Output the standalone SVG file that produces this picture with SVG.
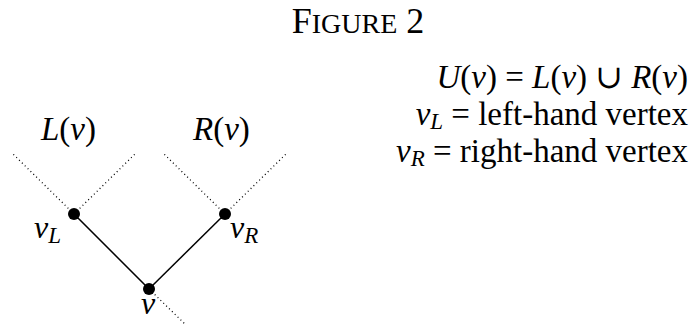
<svg xmlns="http://www.w3.org/2000/svg" width="692" height="329" viewBox="0 0 692 329">
<style>
text{font-family:"Liberation Serif","DejaVu Serif",serif;fill:#000}
.i{font-style:italic}
.dot{fill:#000}
.solid{stroke:#000;stroke-width:1.5;fill:none}
.dotted{stroke:#000;stroke-width:1.3;stroke-dasharray:1 3;fill:none}
</style>
<rect width="692" height="329" fill="#fff"/>
<text id="title" x="358" y="33" text-anchor="middle" font-size="36">F<tspan font-size="28">IGURE</tspan> 2</text>
<g id="connectors">
<line class="dotted" x1="74" y1="214" x2="13" y2="154"/>
<line class="dotted" x1="74" y1="214" x2="135" y2="154"/>
<line class="dotted" x1="225" y1="214" x2="164" y2="154"/>
<line class="dotted" x1="225" y1="214" x2="286" y2="154"/>
<line class="dotted" x1="149" y1="289" x2="186" y2="325"/>
<line class="solid" x1="74" y1="214" x2="149" y2="289"/>
<line class="solid" x1="149" y1="289" x2="225" y2="214"/>
</g>
<g id="nodeL">
<circle class="dot" cx="74" cy="214" r="6"/>
<text x="34" y="238" font-size="32"><tspan class="i">ν</tspan><tspan class="i" font-size="23" dy="5">L</tspan></text>
</g>
<g id="nodeR">
<circle class="dot" cx="225" cy="214" r="6"/>
<text x="230" y="238" font-size="32"><tspan class="i">ν</tspan><tspan class="i" font-size="23" dy="5">R</tspan></text>
</g>
<g id="nodeV">
<circle class="dot" cx="149" cy="289" r="6"/>
<text x="141" y="314" font-size="32" class="i">ν</text>
</g>
<g id="labelL"><text x="41" y="140" font-size="33"><tspan class="i">L</tspan>(<tspan class="i">ν</tspan>)</text></g>
<g id="labelR"><text x="193" y="140" font-size="33"><tspan class="i">R</tspan>(<tspan class="i">ν</tspan>)</text></g>
<g id="legend">
<text x="688" y="88" text-anchor="end" font-size="33"><tspan class="i">U</tspan>(<tspan class="i">ν</tspan>) = <tspan class="i">L</tspan>(<tspan class="i">ν</tspan>) ∪ <tspan class="i">R</tspan>(<tspan class="i">ν</tspan>)</text>
<text x="688" y="125" text-anchor="end" font-size="33"><tspan class="i">ν</tspan><tspan class="i" font-size="23" dy="4">L</tspan><tspan dy="-4"> = left-hand vertex</tspan></text>
<text x="688" y="162" text-anchor="end" font-size="33"><tspan class="i">ν</tspan><tspan class="i" font-size="23" dy="4">R</tspan><tspan dy="-4"> = right-hand vertex</tspan></text>
</g>
</svg>
